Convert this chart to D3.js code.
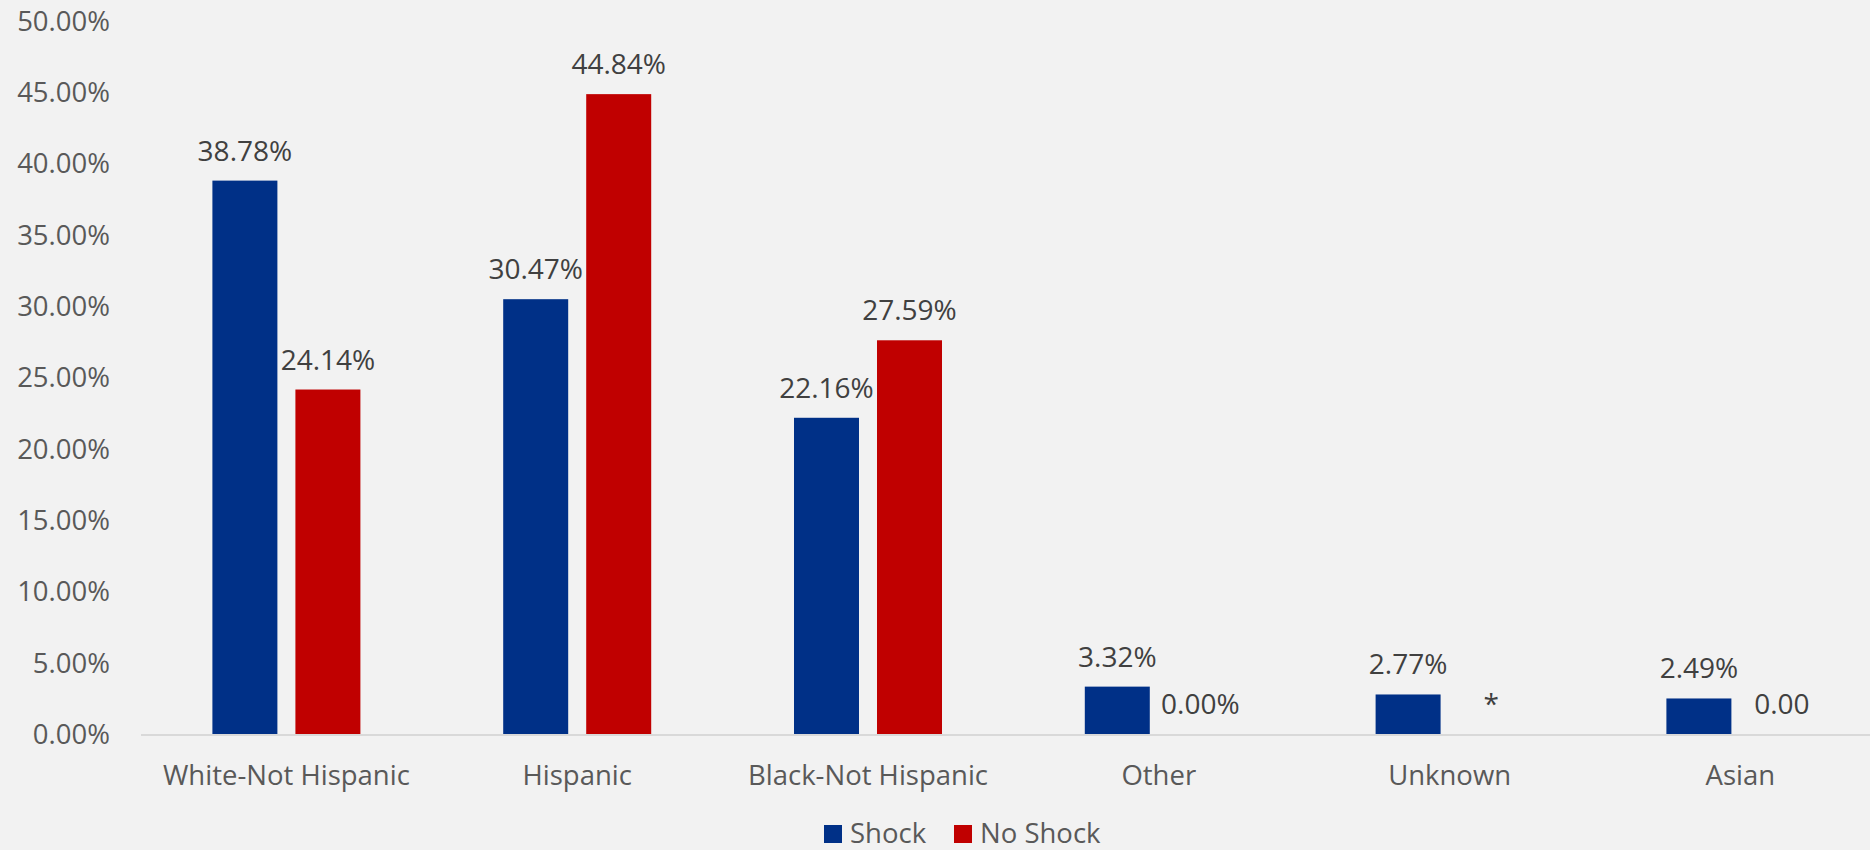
<!DOCTYPE html>
<html>
<head>
<meta charset="utf-8">
<script src="https://cdn.jsdelivr.net/npm/d3@7"></script>
<style>
  html, body { margin: 0; padding: 0; background: #f2f2f2; }
  svg { display: block; font-family: "Open Sans", "Noto Sans", sans-serif; }
</style>
</head>
<body>
<svg id="chart" width="1870" height="850"></svg>
<script>
const categories = ["White-Not Hispanic", "Hispanic", "Black-Not Hispanic", "Other", "Unknown", "Asian"];
const seriesNames = ["Shock", "No Shock"];
const shockValues = [38.78, 30.47, 22.16, 3.32, 2.77, 2.49];
const noShockValues = [24.14, 44.84, 27.59, 0, 0, 0];
const shockLabels = ["38.78%", "30.47%", "22.16%", "3.32%", "2.77%", "2.49%"];
const noShockLabels = ["24.14%", "44.84%", "27.59%", "0.00%", "*", "0.00"];
const yTicks = [0, 5, 10, 15, 20, 25, 30, 35, 40, 45, 50];
const colors = ["#003087", "#C00000"];

const svg = d3.select("#chart");
const W = 1870, H = 850;
svg.append("rect").attr("width", W).attr("height", H).attr("fill", "#f2f2f2");

const plotLeft = 141, band = 290.8;
const x0 = d3.scaleBand().domain(categories).range([plotLeft, plotLeft + band * categories.length]).padding(0);
const groupW = 148;
const x1 = d3.scaleBand().domain(seriesNames).range([0, groupW]).paddingInner(0.217).paddingOuter(0);
const groupOffset = (x0.bandwidth() - groupW) / 2;
const y = d3.scaleLinear().domain([0, 50]).range([734, 20.5]);

const series = [
  { name: "Shock", values: shockValues, labels: shockLabels },
  { name: "No Shock", values: noShockValues, labels: noShockLabels }
];

// Y axis labels (no line, no ticks)
const yAxis = d3.axisLeft(y).tickValues(yTicks).tickFormat(d => d3.format(".2f")(d) + "%").tickSize(0).tickPadding(0);
const yg = svg.append("g").attr("transform", "translate(110,0)").call(yAxis);
yg.select(".domain").remove();
yg.selectAll("text").attr("font-size", 27.5).attr("fill", "#595959").attr("font-family", "Open Sans, Noto Sans, sans-serif").attr("dy", "0.35em");

// Bars
series.forEach((s, si) => {
  const g = svg.append("g");
  g.selectAll("rect").data(categories).join("rect")
    .attr("x", (c) => x0(c) + groupOffset + x1(s.name))
    .attr("width", x1.bandwidth())
    .attr("y", (c, i) => y(s.values[i]))
    .attr("height", (c, i) => y(0) - y(s.values[i]))
    .attr("fill", colors[si]);
  g.selectAll("text").data(categories).join("text")
    .attr("x", (c) => x0(c) + groupOffset + x1(s.name) + x1.bandwidth() / 2)
    .attr("y", (c, i) => y(s.values[i]) - 20)
    .attr("text-anchor", "middle")
    .attr("font-size", 28)
    .attr("fill", "#404040")
    .text((c, i) => s.labels[i]);
});

// X axis
const xAxis = d3.axisBottom(x0).tickSize(0).tickPadding(0);
const xg = svg.append("g").attr("transform", `translate(0,${y(0)})`).call(xAxis);
xg.select(".domain").attr("stroke", "#d9d9d9").attr("stroke-width", 2).attr("d", `M${plotLeft},1H${W}`);
xg.selectAll("text").attr("font-size", 27.5).attr("fill", "#595959").attr("font-family", "Open Sans, Noto Sans, sans-serif").attr("dy", 0).attr("y", 51);

// Legend
const legend = svg.append("g");
const legendItems = [
  { name: "Shock", color: colors[0], x: 824 },
  { name: "No Shock", color: colors[1], x: 954 }
];
legendItems.forEach(it => {
  legend.append("rect").attr("x", it.x).attr("y", 825).attr("width", 18).attr("height", 18).attr("fill", it.color);
  legend.append("text").attr("x", it.x + 26).attr("y", 843).attr("font-size", 27.5).attr("fill", "#595959").text(it.name);
});
</script>
</body>
</html>
